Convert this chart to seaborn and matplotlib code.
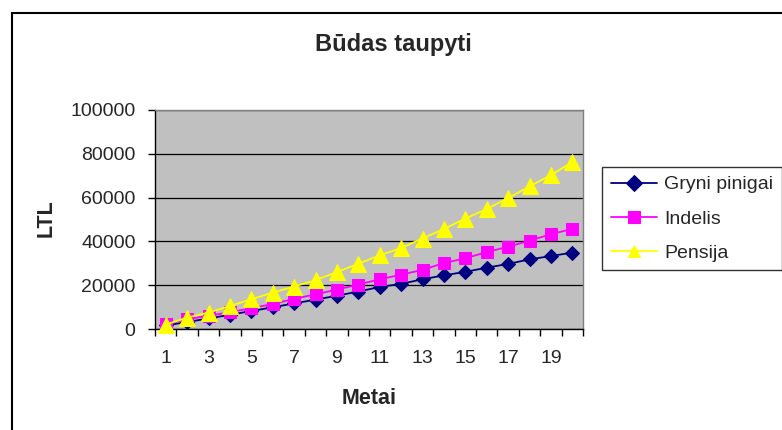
# Būdas taupyti - savings comparison line chart

import pandas as pd
import matplotlib.pyplot as plt
from matplotlib.patches import Rectangle
from matplotlib.ticker import FixedLocator, NullFormatter
import seaborn as sns

# ============ DATA ============
years = list(range(1, 21))
gryni = [1600, 3200, 4800, 6500, 8200, 9900, 11700, 13400, 15200, 17100,
         19200, 20600, 22700, 24500, 26100, 28000, 29700, 31800, 33300, 34900]
indelis = [2200, 4500, 6000, 7700, 9500, 11400, 13800, 15800, 18000, 20300,
           22700, 24800, 27000, 30100, 32300, 35100, 37600, 40300, 43300, 45700]
pensija = [2000, 5200, 7500, 10500, 13600, 16600, 19400, 22300, 26000, 29800,
           33600, 37000, 41300, 45700, 50400, 54800, 59800, 65100, 70300, 76200]
series_names = ["Gryni pinigai", "Indelis", "Pensija"]
y_ticks = [0, 20000, 40000, 60000, 80000, 100000]
x_labels = [1, 3, 5, 7, 9, 11, 13, 15, 17, 19]
# ==============================

df = pd.concat([
    pd.DataFrame({"Metai": years, "LTL": vals, "Serija": name})
    for name, vals in zip(series_names, [gryni, indelis, pensija])
])

sns.set_style("white")
plt.rcParams["font.family"] = ["Liberation Sans", "DejaVu Sans"]

fig = plt.figure(figsize=(7.82, 4.30), dpi=100)
ax = fig.add_axes([155 / 782, 1 - 329 / 430, 428 / 782, 219 / 430])
ax.set_facecolor("#C0C0C0")

palette = {"Gryni pinigai": "#000080", "Indelis": "#FF00FF", "Pensija": "#FFFF00"}
markers = {"Gryni pinigai": "D", "Indelis": "s", "Pensija": "^"}
sns.lineplot(data=df, x="Metai", y="LTL", hue="Serija", style="Serija",
             palette=palette, markers=markers, dashes=False, ax=ax,
             linewidth=1.3, markersize=8, zorder=3)
for line in ax.lines:
    line.set_markeredgecolor(line.get_color())
    line.set_markerfacecolor(line.get_color())
    line.set_clip_on(False)
# per-marker sizes
sizes = {"Gryni pinigai": 7.5, "Indelis": 8.5, "Pensija": 11}
for line, name in zip(ax.lines, series_names):
    line.set_markersize(sizes[name])

# axes
ax.set_xlim(0.5, 20.5)
ax.set_ylim(0, 100000)
ax.set_yticks(y_ticks)
ax.set_yticklabels([str(v) for v in y_ticks])
ax.xaxis.set_major_locator(FixedLocator([i + 0.5 for i in range(0, 21)]))
ax.xaxis.set_major_formatter(NullFormatter())
ax.xaxis.set_minor_locator(FixedLocator(x_labels))
ax.set_xticklabels([str(v) for v in x_labels], minor=True)
ax.tick_params(axis="x", which="major", direction="out", length=5, width=1, color="black", bottom=True)
ax.tick_params(axis="x", which="minor", length=0, labelsize=14, pad=15, bottom=True)
ax.tick_params(axis="y", direction="out", length=5, width=1, color="black", labelsize=14, pad=9, left=True)
ax.yaxis.grid(True, color="black", linewidth=0.9)
ax.set_axisbelow(True)
ax.set_xlabel("")
ax.set_ylabel("")
for side in ["left", "bottom"]:
    ax.spines[side].set_color("black")
    ax.spines[side].set_linewidth(1)
for side in ["top", "right"]:
    ax.spines[side].set_color("#808080")
    ax.spines[side].set_linewidth(1)

# labels
fig.text(393 / 782, 1 - 45 / 430, "Būdas taupyti", ha="center", va="center",
         fontsize=17, fontweight="bold")
fig.text(46 / 782, 1 - 218 / 430, "LTL", ha="center", va="center",
         rotation=90, fontsize=15.5, fontweight="bold")
fig.text(369 / 782, 1 - 398 / 430, "Metai", ha="center", va="center",
         fontsize=15.5, fontweight="bold")

# legend
handles, labels = ax.get_legend_handles_labels()
for h in handles:
    h.set_markeredgecolor(h.get_color())
leg = ax.legend(handles, labels, loc="upper left",
                bbox_to_anchor=(602 / 782, 1 - 167 / 430), bbox_transform=fig.transFigure,
                borderaxespad=0, fontsize=14, frameon=True, fancybox=False,
                edgecolor="black", handlelength=2.4, handletextpad=0.35,
                labelspacing=0.85, borderpad=0.45)
leg.get_frame().set_linewidth(1)
leg.get_frame().set_facecolor("white")

# outer chart border
fig.patches.append(Rectangle((12 / 782, -0.1), 1.2, 1 - 13 / 430 + 0.1,
                             transform=fig.transFigure, fill=False,
                             edgecolor="black", linewidth=1.5))

plt.savefig("out.png", dpi=100)
